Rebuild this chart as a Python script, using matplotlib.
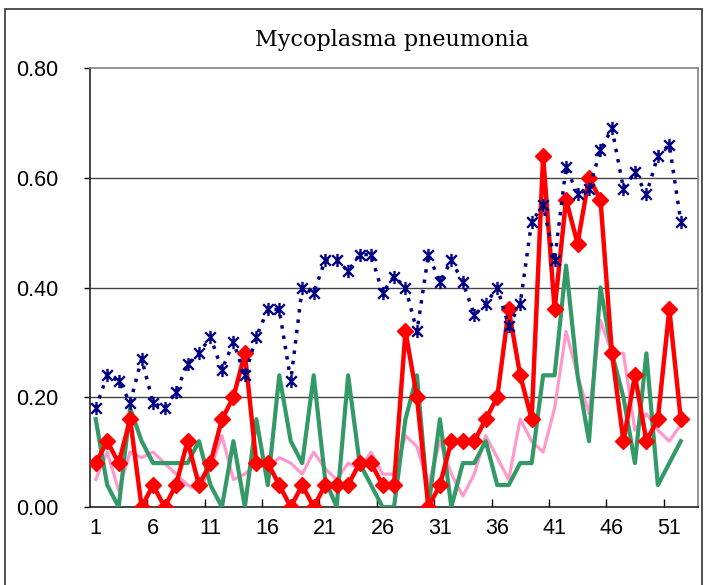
import matplotlib
matplotlib.use('Agg')
import matplotlib.pyplot as plt
import numpy as np
from matplotlib.path import Path
from matplotlib.patches import Rectangle

# weekly values
weeks = np.arange(1, 53)

navy_vals = [0.18, 0.24, 0.23, 0.19, 0.27, 0.19, 0.18, 0.21, 0.26, 0.28,
             0.31, 0.25, 0.30, 0.24, 0.31, 0.36, 0.36, 0.23, 0.40, 0.39,
             0.45, 0.45, 0.43, 0.46, 0.46, 0.39, 0.42, 0.40, 0.32, 0.46,
             0.41, 0.45, 0.41, 0.35, 0.37, 0.40, 0.33, 0.37, 0.52, 0.55,
             0.45, 0.62, 0.57, 0.58, 0.65, 0.69, 0.58, 0.61, 0.57, 0.64,
             0.66, 0.52]

red_vals = [0.08, 0.12, 0.08, 0.16, 0.00, 0.04, 0.00, 0.04, 0.12, 0.04,
            0.08, 0.16, 0.20, 0.28, 0.08, 0.08, 0.04, 0.00, 0.04, 0.00,
            0.04, 0.04, 0.04, 0.08, 0.08, 0.04, 0.04, 0.32, 0.20, 0.00,
            0.04, 0.12, 0.12, 0.12, 0.16, 0.20, 0.36, 0.24, 0.16, 0.64,
            0.36, 0.56, 0.48, 0.60, 0.56, 0.28, 0.12, 0.24, 0.12, 0.16,
            0.36, 0.16]

green_vals = [0.16, 0.04, 0.00, 0.18, 0.12, 0.08, 0.08, 0.08, 0.08, 0.12,
              0.04, 0.00, 0.12, 0.00, 0.16, 0.04, 0.24, 0.12, 0.08, 0.24,
              0.05, 0.00, 0.24, 0.08, 0.04, 0.00, 0.00, 0.16, 0.24, 0.00,
              0.16, 0.00, 0.08, 0.08, 0.12, 0.04, 0.04, 0.08, 0.08, 0.24,
              0.24, 0.44, 0.24, 0.12, 0.40, 0.28, 0.20, 0.08, 0.28, 0.04,
              0.08, 0.12]

pink_vals = [0.05, 0.10, 0.03, 0.10, 0.09, 0.10, 0.08, 0.06, 0.04, 0.03,
             0.07, 0.13, 0.05, 0.06, 0.08, 0.07, 0.09, 0.08, 0.06, 0.10,
             0.07, 0.05, 0.08, 0.07, 0.10, 0.06, 0.06, 0.13, 0.11, 0.04,
             0.12, 0.06, 0.02, 0.06, 0.13, 0.09, 0.05, 0.16, 0.12, 0.10,
             0.18, 0.32, 0.24, 0.17, 0.34, 0.28, 0.28, 0.14, 0.17, 0.14,
             0.12, 0.15]

xtick_vals = [1, 6, 11, 16, 21, 26, 31, 36, 41, 46, 51]
ytick_vals = [0.0, 0.2, 0.4, 0.6, 0.8]

# Excel-style star marker: X with a vertical bar
star = Path([(0, -1), (0, 1), (-0.8, -0.8), (0.8, 0.8), (-0.8, 0.8), (0.8, -0.8)],
            [Path.MOVETO, Path.LINETO, Path.MOVETO, Path.LINETO, Path.MOVETO, Path.LINETO])

fig = plt.figure(figsize=(7.04, 5.85), dpi=100)
fig.patch.set_facecolor('white')

# outer chart border
fig.patches.append(Rectangle((5 / 704, -0.05), 697 / 704, (585 - 9) / 585 + 0.05,
                             transform=fig.transFigure, fill=False,
                             edgecolor='#333333', linewidth=1.2))

ax = fig.add_axes([90 / 704, 78 / 585, 608 / 704, 439 / 585])

ax.plot(weeks, pink_vals, color='#FF99CC', linewidth=2.3, zorder=2)
ax.plot(weeks, green_vals, color='#339966', linewidth=3.0, zorder=3)
ax.plot(weeks, red_vals, color='#FF0000', linewidth=3.2, marker='D',
        markersize=8, zorder=4)
ax.plot(weeks, navy_vals, color='#000080', linewidth=2.5,
        linestyle=(0, (1.0, 2.0)), dash_capstyle='butt', zorder=5)
ax.plot(weeks, navy_vals, linestyle='none', marker=star, markersize=9.5,
        markeredgewidth=1.7, markeredgecolor='#000080', zorder=6)

ax.set_xlim(0.5, 53.5)
ax.set_ylim(0, 0.8)

ax.set_yticks(ytick_vals)
ax.set_yticklabels([f'{v:.2f}' for v in ytick_vals])
ax.set_xticks(xtick_vals)
ax.set_xticks(np.arange(5.5, 51, 5), minor=True)

ax.tick_params(axis='y', direction='out', length=4, width=1, pad=19,
               labelsize=15.5)
ax.tick_params(axis='x', which='major', length=0, pad=8, labelsize=15.5)
ax.tick_params(axis='x', which='minor', direction='in', length=6, width=1)
for lab in ax.get_xticklabels() + ax.get_yticklabels():
    lab.set_family('Liberation Sans')

for y in ytick_vals[1:-1]:
    ax.axhline(y, color='#444444', linewidth=1.0, zorder=1)

for side in ['top', 'right']:
    ax.spines[side].set_color('#808080')
    ax.spines[side].set_linewidth(1.2)
for side in ['left', 'bottom']:
    ax.spines[side].set_color('#222222')
    ax.spines[side].set_linewidth(1.2)

fig.text(392 / 704, 1 - 40 / 585, 'Mycoplasma pneumonia', ha='center',
         va='center', fontsize=16, family='DejaVu Serif')

fig.savefig('out.png', dpi=100, facecolor='white')
